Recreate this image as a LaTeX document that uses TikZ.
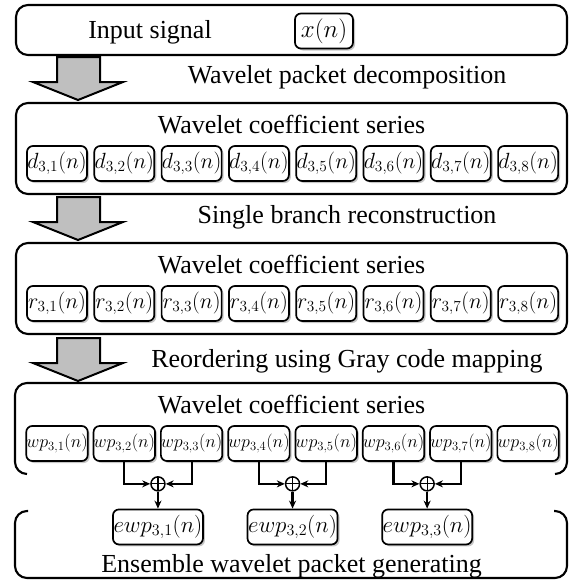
\documentclass[tikz,border=0pt]{standalone}
\usepackage{fix-cm}
\usepackage{fontspec}
\setmainfont{Liberation Serif}
\usetikzlibrary{positioning,shadows,arrows.meta,calc}

\tikzset{
  stage/.style={draw, line width=2.1pt, rounded corners=12pt},
  coef/.style={draw, line width=1.7pt, rounded corners=6pt, fill=white,
    inner sep=0pt, minimum width=60pt, minimum height=35pt,
    font=\fontsize{22}{26}\selectfont,
    drop shadow={shadow xshift=2pt, shadow yshift=-2pt, opacity=0.45}},
  bigarrow/.style={draw, line width=2pt, fill=gray!50},
  sum/.style={draw, circle, line width=1.5pt, minimum size=14pt, inner sep=0pt,
    path picture={\draw[line width=1.1pt]
      (path picture bounding box.north) -- (path picture bounding box.south)
      (path picture bounding box.west) -- (path picture bounding box.east);}},
  link/.style={line width=2.2pt, -{Stealth[length=8pt, width=7pt]}}
}

\begin{document}
\begin{tikzpicture}[x=1pt, y=-1pt, font=\fontsize{26}{30}\selectfont]
  \useasboundingbox (0,0) rectangle (570,581);

  % stages
  \node[stage, minimum width=551pt, minimum height=50pt] (input) at (291.5,30) {};
  \node[stage, minimum width=551pt, minimum height=91pt] (decbox) at (291.5,148.5) {};
  \node[stage, minimum width=551pt, minimum height=91pt] (recbox) at (291.5,288.5) {};
  \draw[stage] (27,474) -- (15,474) -- (15,383) -- (567,383) -- (567,474) -- (555,474);
  \draw[stage] (28,511) -- (15,511) -- (15,578) -- (567,578) -- (567,511) -- (554,511);

  \node[anchor=base] (insig) at (150,38) {Input signal};
  \node[coef, minimum width=58pt, font=\fontsize{25}{29}\selectfont] (x) at (324,31) {$x(n)$};

  \node[anchor=base] (dtitle) at (291.5,133) {Wavelet coefficient series};
  \node[anchor=base] (rtitle) at (291.5,273) {Wavelet coefficient series};
  \node[anchor=base] (wtitle) at (291.5,413) {Wavelet coefficient series};
  \node[anchor=base] (etitle) at (291.5,572) {Ensemble wavelet packet generating};

  % big arrows between the stages
  \foreach \t in {57,197,338}
    \draw[bigarrow] (57,\t) -- (100,\t) -- (100,\t+25) -- (123,\t+25)
      -- (78,\t+43) -- (33,\t+25) -- (57,\t+25) -- cycle;
  \node[anchor=base] (decomp) at (347,83) {Wavelet packet decomposition};
  \node[anchor=base] (recon) at (347,223) {Single branch reconstruction};
  \node[anchor=base] (reord) at (347,367) {Reordering using Gray code mapping};

  % coefficient rows
  \foreach \i in {1,...,8} {
    \node[coef] (d\i) at ({57+67.3*(\i-1)},163.5) {$d_{3,\i}(n)$};
    \node[coef] (r\i) at ({57+67.3*(\i-1)},303.5) {$r_{3,\i}(n)$};
    \node[coef, font=\fontsize{18}{21}\selectfont] (wp\i) at ({57+67.3*(\i-1)},443.5) {$wp_{3,\i}(n)$};
  }

  % ensembles
  \foreach \k/\a/\b in {1/2/3, 2/4/5, 3/6/7} {
    \path ($(wp\a.south)!0.5!(wp\b.south)$) ++(0,22) node[sum] (s\k) {};
    \node[coef, minimum width=90pt, below=17pt of s\k, font=\fontsize{23}{27}\selectfont] (ewp\k) {$ewp_{3,\k}(n)$};
    \draw[link] (wp\a.south) |- (s\k.west);
    \draw[link] (wp\b.south) |- (s\k.east);
    \draw[link] (s\k) -- (ewp\k);
  }
\end{tikzpicture}
\end{document}
